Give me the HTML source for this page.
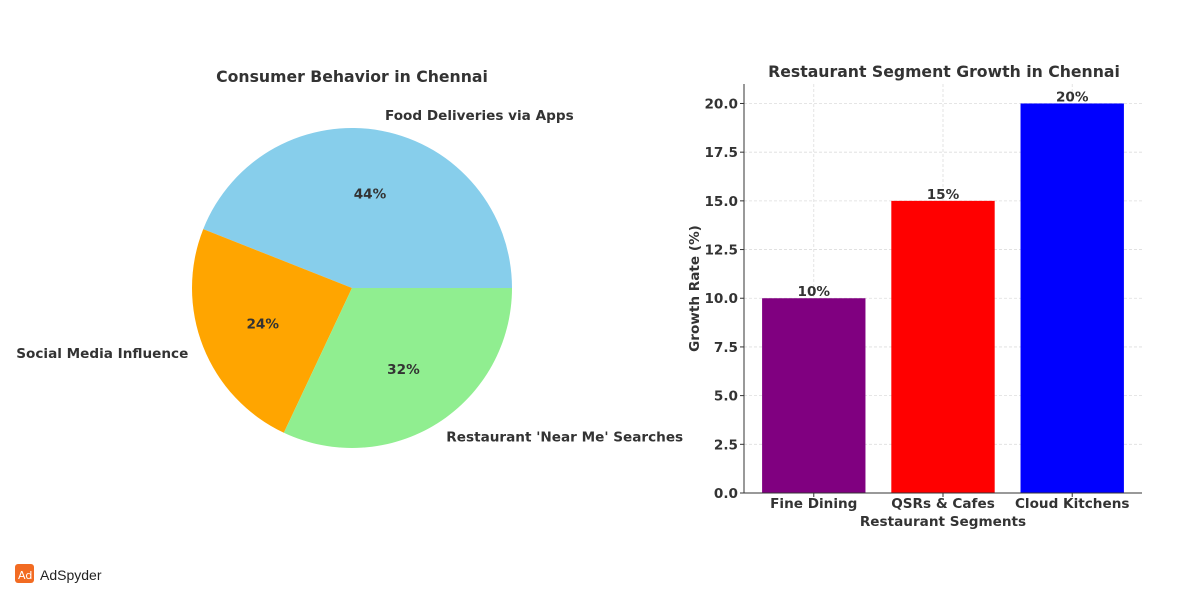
<!DOCTYPE html>
<html><head><meta charset="utf-8"><style>
body{margin:0;background:#fff;width:1200px;height:600px;overflow:hidden;font-family:"DejaVu Sans","Liberation Sans",sans-serif}
svg text{font-family:"DejaVu Sans","Liberation Sans",sans-serif;font-weight:bold;fill:#333}
</style></head><body>
<svg id="s" width="1200" height="600">
<g id="pie"></g>
<g id="bar"></g>
<g>
<rect x="15" y="564" width="19" height="19" rx="3" fill="#f26b22"/>
<text x="18" y="579" style="font-size:11px;fill:#fff;font-weight:normal">Ad</text>
<text x="40" y="580" style="font-size:14px;fill:#222;font-weight:normal;font-family:'Liberation Sans',sans-serif">AdSpyder</text>
</g>
</svg>
<script>
const pieLabels=["Food Deliveries via Apps","Social Media Influence","Restaurant 'Near Me' Searches"];
const pieValues=[44,24,32];
const pieColors=["#87ceeb","#ffa500","#90ee90"];
const barCats=["Fine Dining","QSRs & Cafes","Cloud Kitchens"];
const barValues=[10,15,20];
const barColors=["#800080","#ff0000","#0000ff"];
const yTicks=[0,2.5,5,7.5,10,12.5,15,17.5,20];
const NS="http://www.w3.org/2000/svg";
const FS='13.6',TS='15.7';
function mk(p,t,a,txt){const e=document.createElementNS(NS,t);for(const k in a)e.setAttribute(k,a[k]);if(txt!==undefined)e.textContent=txt;p.appendChild(e);return e;}
const pie=document.getElementById('pie');
const cx=352,cy=288,R=160;
mk(pie,'text',{x:cx,y:82,'text-anchor':'middle','font-size':TS},"Consumer Behavior in Chennai");
const tot=pieValues.reduce((a,b)=>a+b,0);let a0=0;
pieValues.forEach((v,i)=>{
 const a1=a0+v/tot*2*Math.PI;
 const x0=cx+R*Math.cos(a0),y0=cy-R*Math.sin(a0),x1=cx+R*Math.cos(a1),y1=cy-R*Math.sin(a1);
 const p=mk(pie,'path',{d:`M${cx},${cy}L${x0},${y0}A${R},${R} 0 ${a1-a0>Math.PI?1:0} 0 ${x1},${y1}Z`,fill:pieColors[i]});
 
 
 const m=(a0+a1)/2;
 const pt=mk(pie,'text',{x:cx+0.6*R*Math.cos(m),y:cy-0.6*R*Math.sin(m)+5,'text-anchor':'middle','font-size':FS},Math.round(v/tot*100)+"%");
 
 
 const lx=cx+1.1*R*Math.cos(m),ly=cy-1.1*R*Math.sin(m);
 const lt=mk(pie,'text',{x:lx,y:ly+5,'text-anchor':Math.cos(m)>=0?'start':'end','font-size':FS},pieLabels[i]);
 
 
 a0=a1;
});
const bar=document.getElementById('bar');
const L=744,Rr=1142,T=84,B=493,ymax=21,xmin=-0.54,xmax=2.54;
const ys=v=>B-(v/ymax)*(B-T);
const xs=v=>L+(v-xmin)/(xmax-xmin)*(Rr-L);
mk(bar,'text',{x:(L+Rr)/2+1,y:77,'text-anchor':'middle','font-size':TS},"Restaurant Segment Growth in Chennai");
yTicks.forEach(t=>{
 mk(bar,'line',{x1:L,x2:Rr,y1:ys(t),y2:ys(t),stroke:'#ddd','stroke-dasharray':'3,2','stroke-width':0.8});
 mk(bar,'line',{x1:L-4,x2:L,y1:ys(t),y2:ys(t),stroke:'#333'});
 const tl=mk(bar,'text',{x:L-6,y:ys(t)+5,'text-anchor':'end','font-size':FS},t.toFixed(1));
 
 
});
barCats.forEach((c,i)=>{
 mk(bar,'line',{x1:xs(i),x2:xs(i),y1:T,y2:B,stroke:'#ddd','stroke-dasharray':'3,2','stroke-width':0.8});
});
barCats.forEach((c,i)=>{
 const w=xs(0.4)-xs(0);
 const r=mk(bar,'rect',{x:xs(i)-w,y:ys(barValues[i]),width:2*w,height:B-ys(barValues[i]),fill:barColors[i]});
 
 
 const v=mk(bar,'text',{x:xs(i),y:ys(barValues[i])-2,'text-anchor':'middle','font-size':FS},barValues[i]+"%");
 
 
 mk(bar,'line',{x1:xs(i),x2:xs(i),y1:B,y2:B+4,stroke:'#333'});
 const xl=mk(bar,'text',{x:xs(i),y:B+15,'text-anchor':'middle','font-size':FS},c);
 
 
});
mk(bar,'line',{x1:L,x2:L,y1:T,y2:B,stroke:'#333','stroke-width':1});
mk(bar,'line',{x1:L,x2:Rr,y1:B,y2:B,stroke:'#333','stroke-width':1});
const xt=mk(bar,'text',{x:(L+Rr)/2,y:526,'text-anchor':'middle','font-size':FS},"Restaurant Segments");


const yt=mk(bar,'text',{x:0,y:0,'text-anchor':'middle','font-size':FS,transform:`translate(699,${(T+B)/2}) rotate(-90)`},"Growth Rate (%)");


</script>
</body></html>
